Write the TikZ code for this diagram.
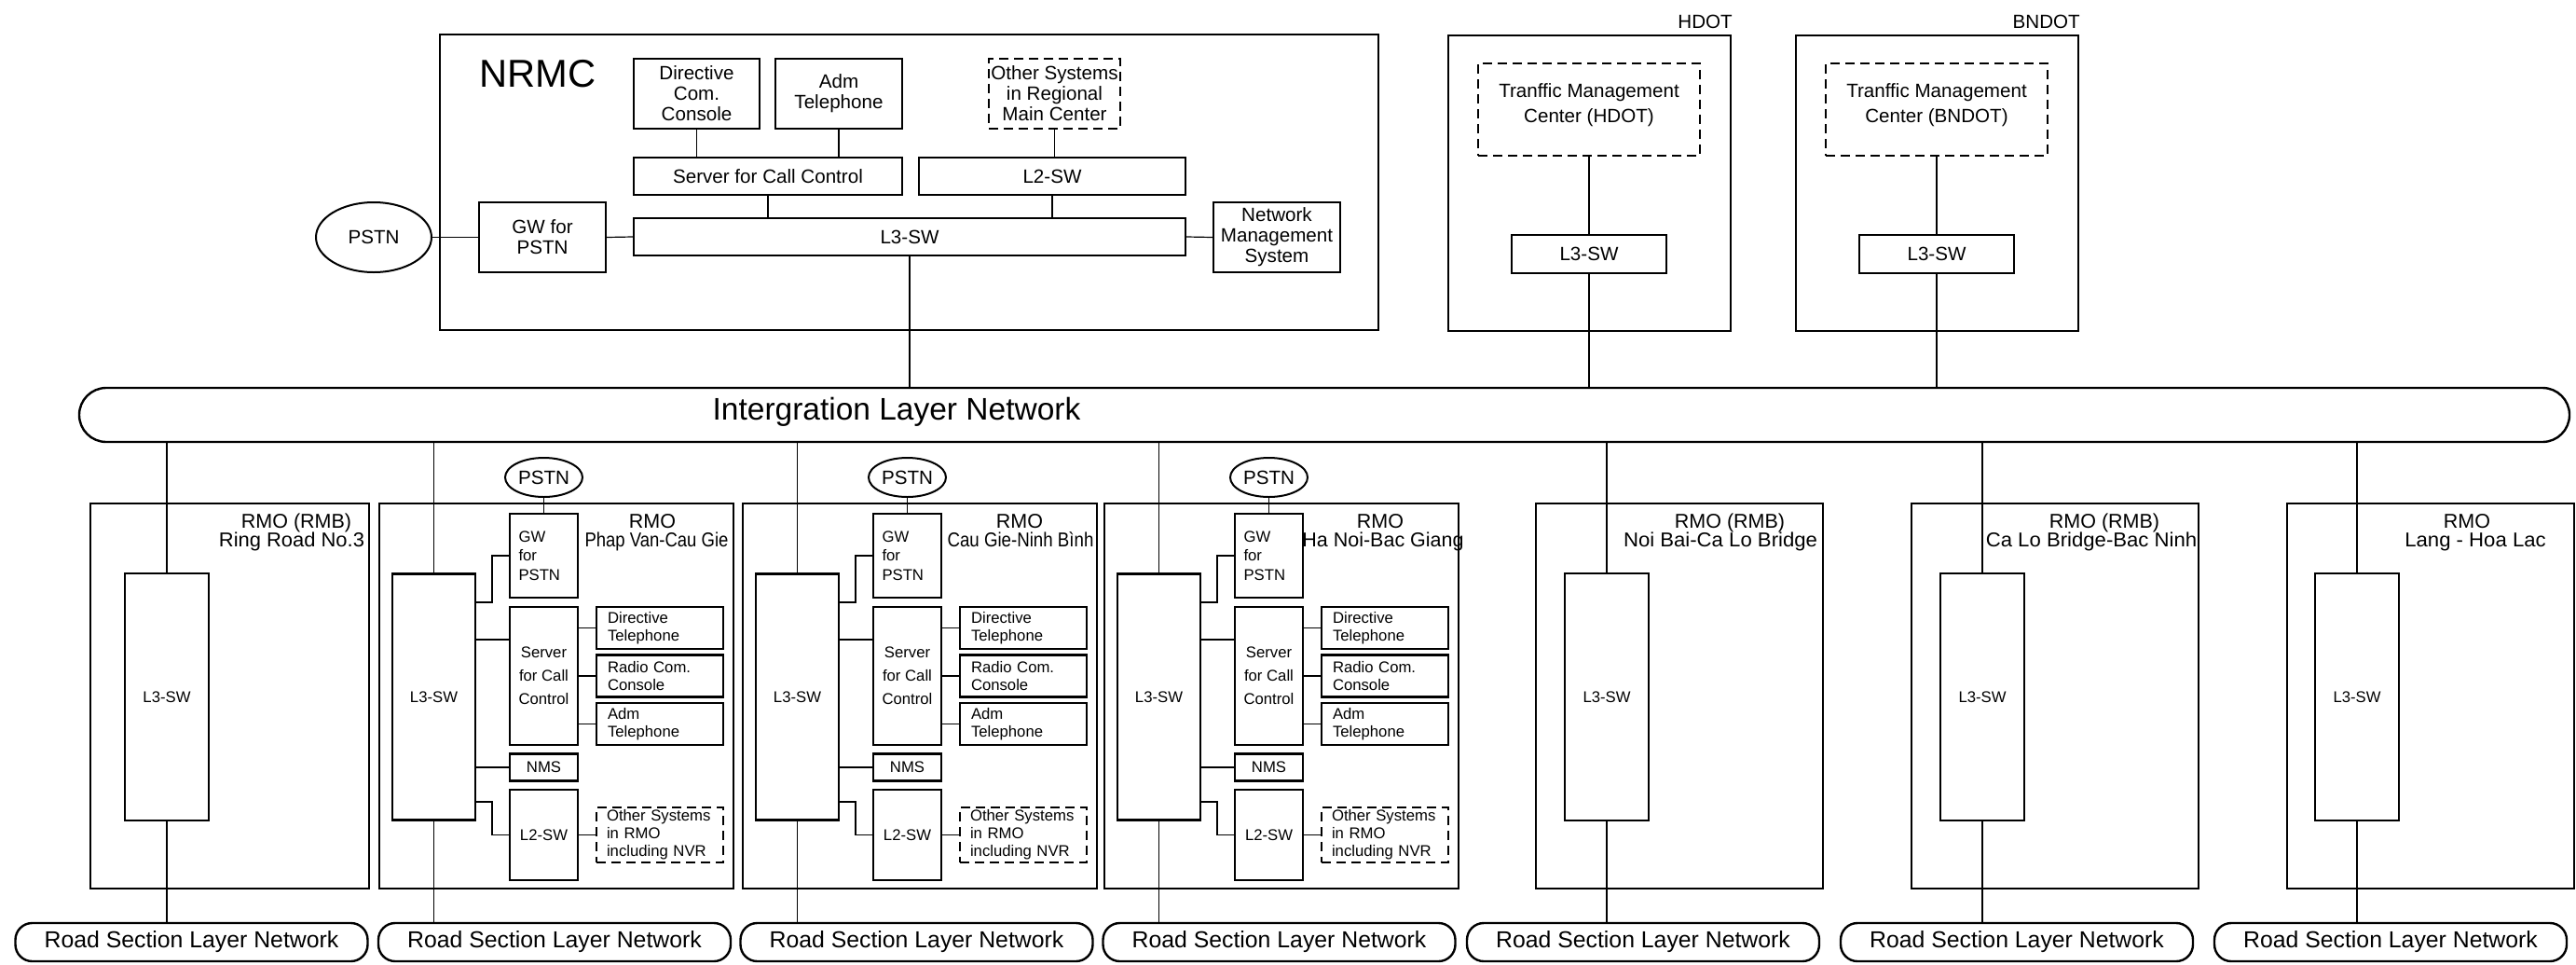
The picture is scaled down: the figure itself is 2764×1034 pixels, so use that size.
\documentclass[tikz,border=0pt]{standalone}
\usepackage{fontspec}
\setmainfont{Liberation Sans}
\usetikzlibrary{shapes.geometric}
\newcommand{\fbig}{\fontsize{41.7}{44}\selectfont}
\newcommand{\fnet}{\fontsize{33.5}{36}\selectfont}
\newcommand{\froad}{\fontsize{24.8}{27}\selectfont}
\newcommand{\frmo}{\fontsize{21.5}{22}\selectfont}
\newcommand{\fmid}{\fontsize{20.6}{22}\selectfont}
\newcommand{\fsml}{\fontsize{16.7}{19}\selectfont}

\begin{document}
\begin{tikzpicture}[x=1pt, y=-1pt,
  rmobox/.style={draw, line width=2pt},
  sysbox/.style={draw, line width=2.4pt, inner sep=0pt, align=center},
  dsysbox/.style={sysbox, line width=1.8pt, dash pattern=on 10pt off 6pt},
  pstnshape/.style={draw, ellipse, line width=2pt, inner sep=0pt, font=\fmid},
  netbar/.style={draw, line width=2.4pt, inner sep=0pt},
  conn/.style={line width=1.2pt},
  rmolabel/.style={anchor=base, inner sep=0pt, font=\frmo}]
\useasboundingbox (0,0) rectangle (2764,1034);

% networks
\node[netbar, rounded corners=29pt, minimum width=2672pt, minimum height=58pt] (iln) at (1421,445) {};
\node[font=\fnet, inner sep=0pt] (ilt) at (962,442) {Intergration Layer Network};
\foreach \k/\cx in {1/205.5, 2/595, 3/983.5, 4/1372.5, 5/1763, 6/2164, 7/2565}
  \node[netbar, rounded corners=18pt, minimum width=378pt, minimum height=41pt, font=\froad] (rs\k) at (\cx,1010.5) {Road Section Layer Network};

% NRMC
\draw[rmobox] (472,37) rectangle (1479,354);
\node[anchor=base west, inner sep=0pt, font=\fbig] (nrmc) at (514,93) {NRMC};
\node[sysbox, font=\fmid, minimum width=135pt, minimum height=75pt] (dcc) at (747.5,100.5) {Directive\\Com.\\Console};
\node[sysbox, font=\fmid, minimum width=136pt, minimum height=75pt] (adm) at (900,100.5) {Adm\\Telephone};
\node[dsysbox, font=\fmid, minimum width=141pt, minimum height=75pt] (oth) at (1131.5,100.5) {Other Systems\\in Regional\\Main Center};
\node[sysbox, font=\fmid, minimum width=288pt, minimum height=40pt] (scc) at (824,189) {Server for Call Control};
\node[sysbox, font=\fmid, minimum width=286pt, minimum height=40pt] (ltwo) at (1129,189) {L2-SW};
\node[sysbox, font=\fmid, minimum width=592pt, minimum height=40pt] (lthree) at (976,254) {L3-SW};
\node[sysbox, font=\fmid, minimum width=136pt, minimum height=75pt] (gw) at (582,254.5) {GW for\\PSTN};
\node[sysbox, font=\fmid, minimum width=136pt, minimum height=75pt] (nms) at (1370,254.5) {Network\\Management\\System};
\node[pstnshape, minimum width=124pt, minimum height=75pt] (pstn) at (401,254.5) {PSTN};
\draw[conn] (dcc.south) -- (dcc.south |- scc.north);
\draw[conn] (adm.south) -- (adm.south |- scc.north);
\draw[conn] (oth.south) -- (oth.south |- ltwo.north);
\draw[conn] (scc.south) -- (scc.south |- lthree.north);
\draw[conn] (ltwo.south) -- (ltwo.south |- lthree.north);
\draw[conn] (pstn.east) -- (gw.west);
\draw[conn] (gw.east) -- (lthree.west);
\draw[conn] (lthree.east) -- (nms.west);
\draw[conn] (lthree.south) -- (lthree.south |- iln.north);

% HDOT and BNDOT
\foreach \k/\bx/\cx/\name in {h/1554/1705/HDOT, b/1927/2078/BNDOT}{
  \draw[rmobox, line width=1.6pt] (\bx,38) rectangle ({\bx+303},355);
  \node[anchor=base east, inner sep=0pt, font=\fmid] (dot\k) at ({\bx+305},30) {\name};
  \node[dsysbox, minimum width=238pt, minimum height=99pt] (tmc\k) at (\cx,117.5) {};
  \node[font=\fmid, align=center, inner sep=0pt] (tmctxt\k) at ([yshift=5pt]tmc\k.center) {Tranffic Management\\[5pt]Center (\name)};
  \node[sysbox, font=\fmid, minimum width=166pt, minimum height=41pt] (sw\k) at (\cx,272.5) {L3-SW};
  \draw[conn] (tmc\k.south) -- (sw\k.north);
  \draw[conn] (sw\k.south) -- (sw\k.south |- iln.north);
}

% RMO with telephone system
\foreach \bx/\k in {407/2, 797/3, 1185/4}{
  \draw[rmobox] (\bx,540) rectangle ({\bx+380},953);
  \node[sysbox, font=\fsml, minimum width=89pt, minimum height=264pt] (sw\k) at ({\bx+58.5},747.5) {L3-SW};
  \node[pstnshape, minimum width=83pt, minimum height=42pt] (pstn\k) at ({\bx+176.5},512) {PSTN};
  \node[sysbox, font=\fontsize{16.7}{20.5}\selectfont, align=left, text width=54pt, minimum width=73pt, minimum height=90pt] (gw\k) at ({\bx+176.5},596) {GW\\for\\PSTN};
  \node[sysbox, font=\fontsize{16.7}{25}\selectfont, minimum width=73pt, minimum height=148pt] (scc\k) at ({\bx+176.5},725) {Server\\for Call\\Control};
  \node[sysbox, font=\fsml, align=left, text width=112pt, minimum width=136pt, minimum height=45pt] (dtel\k) at ({\bx+301},673.5) {Directive\\Telephone};
  \node[sysbox, font=\fsml, align=left, text width=112pt, minimum width=136pt, minimum height=45pt] (rcc\k) at ({\bx+301},725) {Radio Com.\\Console};
  \node[sysbox, font=\fsml, align=left, text width=112pt, minimum width=136pt, minimum height=45pt] (atel\k) at ({\bx+301},776.5) {Adm\\Telephone};
  \node[sysbox, font=\fsml, minimum width=73pt, minimum height=29pt] (nms\k) at ({\bx+176.5},823) {NMS};
  \node[sysbox, font=\fsml, minimum width=73pt, minimum height=97pt] (ltwo\k) at ({\bx+176.5},895.5) {L2-SW};
  \node[dsysbox, font=\fsml, align=left, text width=114pt, minimum width=136pt, minimum height=59pt] (oth\k) at ({\bx+301},895.5) {Other Systems\\in RMO\\including NVR};
  \draw[conn] (pstn\k.south) -- (gw\k.north);
  \draw[conn] (sw\k.east |- 0,646) -- ({\bx+121},646) |- (gw\k.west);
  \draw[conn] (sw\k.east |- 0,686) -- (scc\k.west |- 0,686);
  \draw[conn] (scc\k.east |- dtel\k.west) -- (dtel\k.west);
  \draw[conn] (scc\k.east |- rcc\k.west) -- (rcc\k.west);
  \draw[conn] (scc\k.east |- atel\k.west) -- (atel\k.west);
  \draw[conn] (sw\k.east |- nms\k.west) -- (nms\k.west);
  \draw[conn] (sw\k.east |- 0,860) -- ({\bx+121},860) |- (ltwo\k.west);
  \draw[conn] (ltwo\k.east) -- (oth\k.west);
  \draw[conn] (sw\k.north |- iln.south) -- (sw\k.north);
  \draw[conn] (sw\k.south) -- (sw\k.south |- rs\k.north);
}

% RMO with switch only
\foreach \bx/\ex/\cx/\k in {97/396/179/1, 1648/1956/1724/5, 2051/2359/2127/6, 2454/2762/2529/7}{
  \draw[rmobox] (\bx,540) rectangle (\ex,953);
  \node[sysbox, font=\fsml, minimum width=90pt, minimum height=265pt] (sw\k) at (\cx,747.5) {L3-SW};
  \draw[conn] (sw\k.north |- iln.south) -- (sw\k.north);
  \draw[conn] (sw\k.south) -- (sw\k.south |- rs\k.north);
}

% RMO titles
\foreach \k/\ax/\name/\bx/\bs/\place in {1/318/{RMO (RMB)}/313/1.02/Ring Road No.3,
    2/700/RMO/704.5/0.86/Phap Van-Cau Gie, 3/1094/RMO/1095/0.87/Cau Gie-Ninh Bình,
    4/1481/RMO/1484/1/Ha Noi-Bac Giang, 5/1856/{RMO (RMB)}/1846/1.03/Noi Bai-Ca Lo Bridge,
    6/2258/{RMO (RMB)}/2244/1.03/Ca Lo Bridge-Bac Ninh, 7/2647/RMO/2656/1.03/Lang - Hoa Lac}{
  \node[rmolabel] (rmo\k) at (\ax,566) {\name};
  \node[rmolabel] (place\k) at (\bx,586) {\scalebox{\bs}[1]{\place}};
}
\end{tikzpicture}
\end{document}
